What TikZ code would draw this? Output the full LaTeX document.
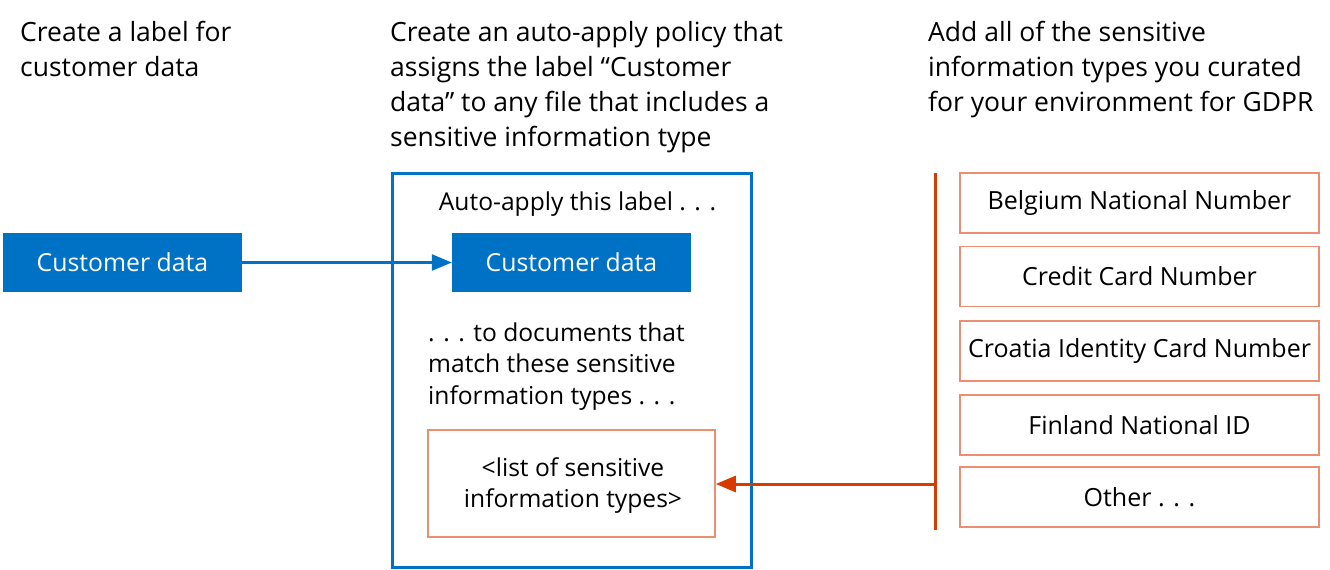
\documentclass[tikz,border=0pt]{standalone}
\usepackage{fontspec}
\setmainfont{Open Sans}
\usetikzlibrary{arrows.meta}
\definecolor{msblue}{HTML}{0072C6}
\definecolor{msorange}{HTML}{D83B01}
\definecolor{lightorange}{HTML}{EA8F72}
\tikzset{
  x=1pt,y=-1pt,
  headtxt/.style={anchor=base west,align=left,inner sep=0pt,font=\fontsize{26.5}{35}\selectfont},
  bluebox/.style={fill=msblue,draw=none,text=white,minimum width=239,minimum height=59,inner sep=0pt,font=\fontsize{24.8}{28}\selectfont},
  listbox/.style={draw=lightorange,line width=1.6,minimum width=359,minimum height=60,inner sep=0pt,font=\fontsize{25}{28}\selectfont},
  bodytxt/.style={inner sep=0pt,font=\fontsize{24.6}{31.5}\selectfont},
}
\begin{document}
\begin{tikzpicture}
\useasboundingbox (0,0) rectangle (1330,570);
% headers (base anchor = baseline of the last line)
\node[headtxt] (h1) at (20,76) {Create a label for\\customer data};
\node[headtxt] (h2) at (390,146) {Create an auto-apply policy that\\assigns the label “Customer\\data” to any file that includes a\\sensitive information type};
\node[headtxt] (h3) at (928,111) {Add all of the sensitive\\information types you curated\\for your environment for GDPR};
% left label
\node[bluebox] (lab) at (122.5,262.5) {Customer data};
% policy frame
\node[draw=msblue,line width=3,minimum width=359,minimum height=394,inner sep=0pt] (frame) at (571.5,370) {};
\node[bodytxt,anchor=base] (auto) at (577.5,210) {Auto-apply this label . . .};
\node[bluebox] (inlab) at (571.5,262.5) {Customer data};
\node[bodytxt,anchor=base west,align=left] (docs) at (428,404) {. . . to documents that\\match these sensitive\\information types . . .};
\node[draw=lightorange,line width=1.6,minimum width=287,minimum height=107,inner sep=0pt] (list) at (571.5,483.5) {};
\node[bodytxt,anchor=base,align=center] (listtxt) at (573,507.5) {<list of sensitive\\information types>};
\draw[msblue,line width=2.5,-{Triangle[length=20,width=16]}] (lab.east) -- (inlab.west);
% right list
\node[listbox] (b1) at (1139.5,203) {Belgium National Number};
\node[listbox] (b2) at (1139.5,276.5) {Credit Card Number};
\node[listbox] (b3) at (1139.5,351) {Croatia Identity Card Number};
\node[listbox] (b4) at (1139.5,425) {Finland National ID};
\node[listbox] (b5) at (1139.5,497) {Other . . .};
\coordinate (vt) at (935,173);
\coordinate (vb) at (935,530);
\coordinate (vm) at (935,484);
\draw[msorange,line width=3] (vt) -- (vb);
\draw[msorange,line width=3,-{Triangle[length=20,width=16]}] (vm) -- (list.east |- vm);
\end{tikzpicture}
\end{document}
